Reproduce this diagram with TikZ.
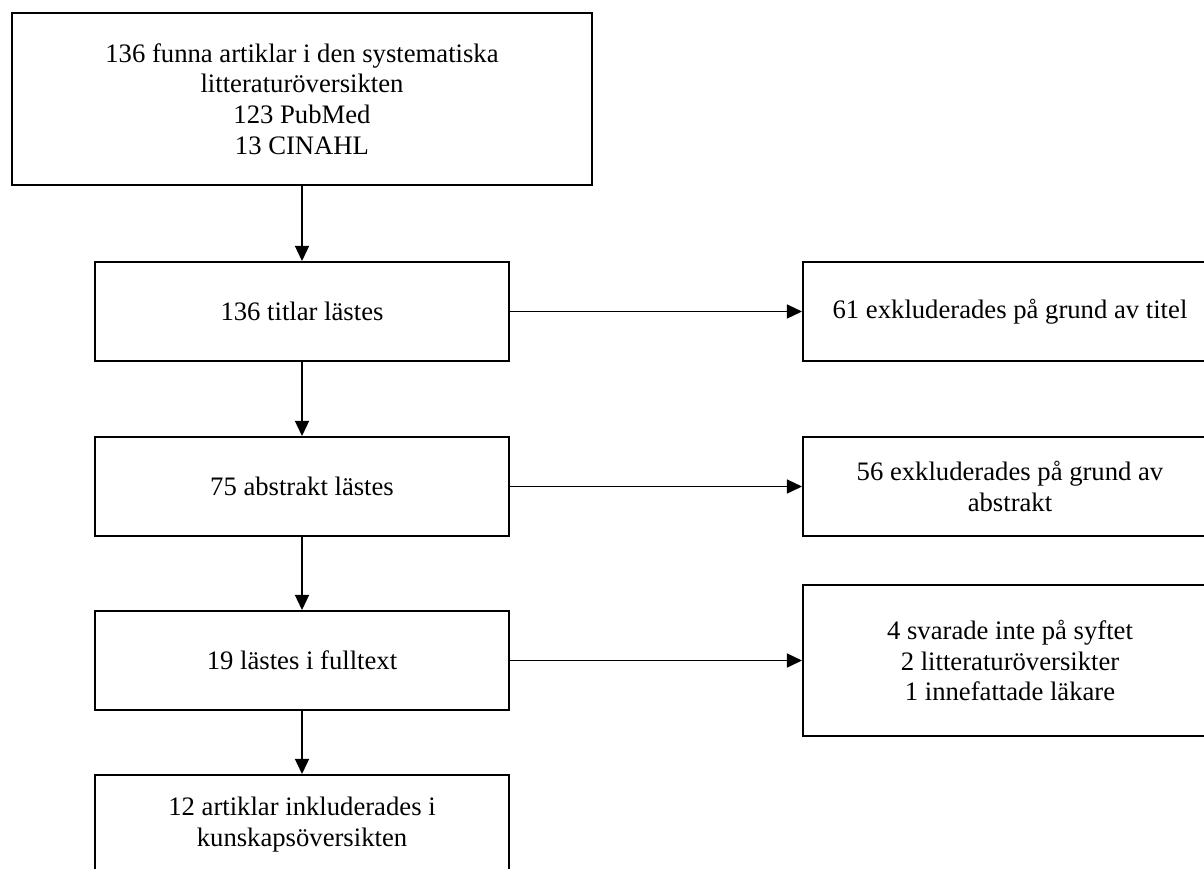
\documentclass[tikz,border=0pt]{standalone}
\usepackage{fontspec}
\setmainfont{Liberation Serif}
\usetikzlibrary{arrows.meta}

\begin{document}
\begin{tikzpicture}[x=0.45pt,y=-0.45pt,
		ruta/.style={draw,line width=0.9pt,align=center,inner sep=0pt,
			font=\fontsize{12pt}{13.8pt}\selectfont,
			minimum width=186.3pt,minimum height=44.55pt},
		pil/.style={line width=0.75pt,-{Triangle[length=6.8pt,width=6.3pt]}}]
			\clip (0,0) rectangle (1204,868);
			
			\node[ruta,minimum width=261pt,minimum height=77.4pt] (funna) at (302,99)
				{136 funna artiklar i den systematiska\\litteraturöversikten\\123 PubMed\\13 CINAHL};
			
			\node[ruta] (titlar) at (302,311.5) {136 titlar lästes};
			\node[ruta] (abstrakt) at (302,486.5) {75 abstrakt lästes};
			\node[ruta] (fulltext) at (302,660.5) {19 lästes i fulltext};
			\node[ruta] (inkl) at (302,824.5) {12 artiklar inkluderades i\\kunskapsöversikten};
			
			\node[ruta] (extitel) at (1010,311.5) {61 exkluderades på grund av titel};
			\node[ruta] (exabstrakt) at (1010,486.5) {56 exkluderades på grund av\\abstrakt};
			\node[ruta,minimum height=68pt] (exfull) at (1010,660.5)
				{4 svarade inte på syftet\\2 litteraturöversikter\\1 innefattade läkare};
			
			\draw[pil] (funna) -- (titlar);
			\draw[pil] (titlar) -- (abstrakt);
			\draw[pil] (abstrakt) -- (fulltext);
			\draw[pil] (fulltext) -- (inkl);
			
			\draw[pil] (titlar) -- (extitel);
			\draw[pil] (abstrakt) -- (exabstrakt);
			\draw[pil] (fulltext) -- (exfull);
			
		\end{tikzpicture}
\end{document}
